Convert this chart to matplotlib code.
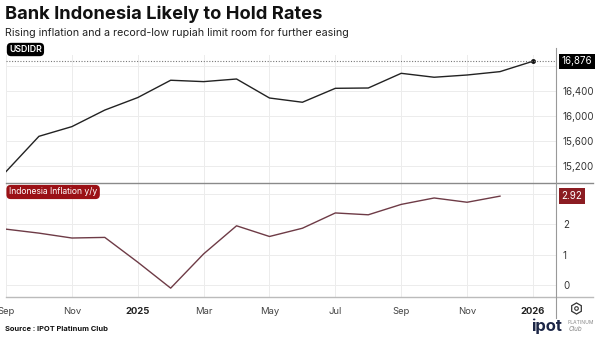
import matplotlib
matplotlib.use("Agg")
import matplotlib.pyplot as plt
from matplotlib.lines import Line2D

plt.rcParams['font.family'] = ['Inter', 'DejaVu Sans']

# monthly readings, Sep 2024 .. Jan 2026
months = ["Sep 2024", "Oct 2024", "Nov 2024", "Dec 2024", "Jan 2025", "Feb 2025",
          "Mar 2025", "Apr 2025", "May 2025", "Jun 2025", "Jul 2025", "Aug 2025",
          "Sep 2025", "Oct 2025", "Nov 2025", "Dec 2025", "Jan 2026"]
usdidr = [15110, 15675, 15830, 16095, 16295, 16572, 16550, 16592, 16288, 16220,
          16443, 16448, 16683, 16620, 16656, 16710, 16876]
inflation = [1.84, 1.71, 1.55, 1.57, 0.76, -0.09, 1.03, 1.95, 1.60, 1.87,
             2.37, 2.31, 2.65, 2.86, 2.72, 2.92]

tick_pos = [0, 2, 4, 6, 8, 10, 12, 14, 16]
tick_labels = ["Sep", "Nov", "2025", "Mar", "May", "Jul", "Sep", "Nov", "2026"]
fx_ticks = [15200, 15600, 16000, 16400, 16800]
inf_ticks = [0, 1, 2, 3]

W, H = 600, 337
fig = plt.figure(figsize=(W / 100, H / 100), dpi=100)
fig.patch.set_facecolor("white")

def box(x0, y0, x1, y1):
    # pixel box (top-left origin) -> figure fraction rect
    return [x0 / W, 1 - y1 / H, (x1 - x0) / W, (y1 - y0) / H]

ax1 = fig.add_axes(box(6, 55, 556, 183))
ax2 = fig.add_axes(box(6, 183, 556, 297))

xs = list(range(len(months)))
for ax in (ax1, ax2):
    ax.set_xlim(0, 16.7)
    for s in ax.spines.values():
        s.set_visible(False)
    ax.grid(True, color="#ececec", linewidth=0.7)
    ax.set_axisbelow(True)
    ax.set_xticks(tick_pos)
    ax.yaxis.tick_right()
    ax.tick_params(axis="y", length=0, pad=5, labelsize=7, labelcolor="#333333")
    ax.tick_params(axis="x", length=0)

# top panel: exchange rate
ax1.set_ylim(14928, 16976)
ax1.set_yticks(fx_ticks)
ax1.set_yticklabels([f"{v:,}" for v in fx_ticks[:-1]] + [""])
ax1.set_xticklabels([])
ax1.plot(xs, usdidr, color="#222222", linewidth=1.0)
ax1.plot(xs[-1], usdidr[-1], "o", color="#111111", markersize=2.5)
ax1.axhline(usdidr[-1], color="#777777", linewidth=0.8, linestyle=(0, (1, 1.5)))
ax1.text(1.01, usdidr[-1], f"{usdidr[-1]:,}", transform=ax1.get_yaxis_transform(),
         ha="left", va="center", fontsize=7, color="white",
         bbox=dict(boxstyle="square,pad=0.25", fc="black", ec="none"))

# bottom panel: inflation
ax2.set_ylim(-0.38, 3.35)
ax2.set_yticks(inf_ticks)
ax2.set_yticklabels([str(v) for v in inf_ticks[:-1]] + [""])
ax2.plot(xs[:len(inflation)], inflation, color="#6e3b46", linewidth=1.0)
ax2.text(1.01, inflation[-1], f"{inflation[-1]:.2f}", transform=ax2.get_yaxis_transform(),
         ha="left", va="center", fontsize=7, color="white",
         bbox=dict(boxstyle="square,pad=0.3", fc="#8b1c22", ec="none"))
ax2.set_xticklabels(tick_labels)
ax2.tick_params(axis="x", pad=7, labelsize=6.8, labelcolor="#444444")
for lbl in ax2.get_xticklabels():
    if lbl.get_text() in ("2025", "2026"):
        lbl.set_fontweight("bold")
        lbl.set_color("#222222")

# separators and right edge
fig.add_artist(Line2D([6 / W, 593 / W], [1 - 183 / H] * 2, color="#8a8a8a", linewidth=1.0))
fig.add_artist(Line2D([6 / W, 593 / W], [1 - 297 / H] * 2, color="#bbbbbb", linewidth=1.0))
fig.add_artist(Line2D([556 / W] * 2, [1 - 48 / H, 1 - 318 / H], color="#999999", linewidth=0.8))

# series tags
fig.text(9 / W, 1 - 49.5 / H, "USDIDR", fontsize=6.3, color="white", va="center", ha="left",
         fontweight="semibold",
         bbox=dict(boxstyle="round,pad=0.25,rounding_size=0.5", fc="black", ec="none"))
fig.text(9 / W, 1 - 192 / H, "Indonesia Inflation y/y", fontsize=6.2, color="white",
         va="center", ha="left",
         bbox=dict(boxstyle="round,pad=0.3,rounding_size=0.5", fc="#9b1116", ec="none"))

# titles
fig.text(5 / W, 1 - 14 / H, "Bank Indonesia Likely to Hold Rates", fontsize=13.2,
         fontweight="bold", color="#111111", va="center", ha="left")
fig.text(5 / W, 1 - 33 / H, "Rising inflation and a record-low rupiah limit room for further easing",
         fontsize=7.7, color="#222222", va="center", ha="left")

# footer
fig.text(5 / W, 1 - 329 / H, "Source : IPOT Platinum Club", fontsize=5.4,
         fontweight="bold", color="#111111", va="center", ha="left")
fig.text(531 / W, 1 - 326 / H, "ipot", fontsize=12, fontweight="bold",
         color="#1d2747", va="center", ha="left")
fig.text(568 / W, 1 - 322 / H, "PLATINUM", fontsize=3.6, color="#888888",
         va="center", ha="left")
fig.text(569 / W, 1 - 329 / H, "Club", fontsize=4.5, color="#888888", style="italic",
         va="center", ha="left")

# settings glyph next to the time axis
fig.add_artist(Line2D([576 / W], [1 - 308 / H], marker="h", markersize=8, color="#333333",
                      markerfacecolor="none", markeredgewidth=0.9))
fig.add_artist(Line2D([576 / W], [1 - 308 / H], marker="o", markersize=2.6, color="#333333",
                      markerfacecolor="none", markeredgewidth=0.8))

fig.savefig("out.png", dpi=100)
